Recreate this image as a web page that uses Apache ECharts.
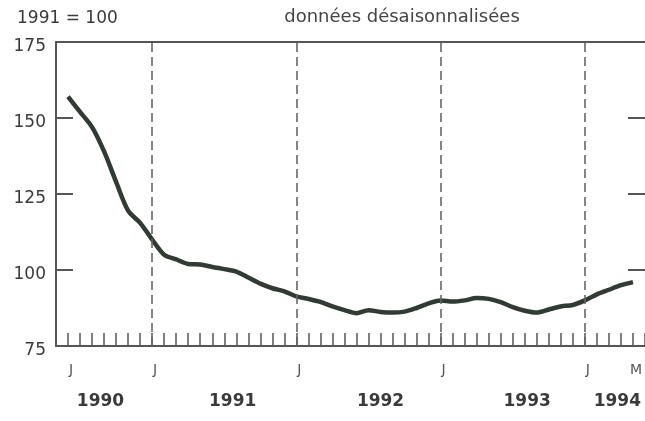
<!DOCTYPE html>
<html>
<head>
<meta charset="utf-8">
<script src="https://cdn.jsdelivr.net/npm/echarts@6/dist/echarts.min.js"></script>
<style>
  html, body { margin: 0; padding: 0; background: #fff; }
  #chart { width: 645px; height: 421px; }
</style>
</head>
<body>
<div id="chart"></div>
<script>
// index mensuel, 1991 = 100, de juin 1990 à mai 1994
const firstMonth = 5 // juin 1990 (mois comptés depuis janvier 1990)
const indexValues = [
  157, 152, 147, 139, 129, 119.5, 115.5,
  110, 105, 103.5, 102, 101.8, 101, 100.3, 99.5, 97.5, 95.5, 94, 93,
  91.3, 90.5, 89.5, 88, 86.8, 85.8, 86.8, 86.2, 86, 86.3, 87.5, 89,
  90, 89.6, 90, 90.8, 90.5, 89.4, 87.8, 86.6, 86, 87, 88, 88.5,
  90, 92, 93.5, 95, 96
]
const monthTicks = [5, 12, 24, 36, 48, 52]
const monthLabels = ['J', 'J', 'J', 'J', 'J', 'M']
const januaries = [12, 24, 36, 48]
const years = ['1990', '1991', '1992', '1993', '1994']
const yTicks = [75, 100, 125, 150, 175]

const points = indexValues.map((v, i) => [firstMonth + i, v])
const yearPos = [7.7, 18.7, 31, 43.2, 50.7]

const font = 'DejaVu Sans, Arial, sans-serif'
const txt = '#3a3a3a'
const axisCol = '#555'

const chart = echarts.init(document.getElementById('chart'))
const option = {
  animation: false,
  textStyle: { fontFamily: font },
  title: [
    {
      text: '1991 = 100',
      left: 12, top: 5,
      textStyle: { fontFamily: font, fontSize: 17, fontWeight: 'normal', color: txt }
    },
    {
      text: 'données désaisonnalisées',
      left: 397, top: 3, textAlign: 'center',
      textStyle: { fontFamily: font, fontSize: 18, fontWeight: 'normal', color: '#444' }
    }
  ],
  grid: { left: 56, right: 0, top: 42, bottom: 75 },
  xAxis: [
    {
      type: 'value', min: 4, max: 53, interval: 1,
      axisLine: { show: true, lineStyle: { color: axisCol, width: 2 } },
      axisTick: { show: true, inside: true, length: 13, lineStyle: { color: axisCol, width: 1.5 } },
      splitLine: { show: false },
      axisLabel: {
        customValues: monthTicks,
        margin: 17, fontSize: 14, color: '#555', fontFamily: font,
        padding: [0, 0, 0, 6],
        formatter: v => monthLabels[monthTicks.indexOf(v)] || ''
      }
    },
    {
      type: 'value', min: 4, max: 53, position: 'bottom',
      axisLine: { show: false }, axisTick: { show: false }, splitLine: { show: false },
      axisLabel: {
        customValues: yearPos,
        margin: 47, fontSize: 17, fontWeight: 'bold', color: txt, fontFamily: font,
        formatter: v => years[yearPos.indexOf(v)] || ''
      }
    },
    {
      type: 'value', min: 4, max: 53, position: 'top',
      axisLine: { show: true, lineStyle: { color: axisCol, width: 2 } },
      axisTick: { show: false }, axisLabel: { show: false }, splitLine: { show: false }
    }
  ],
  yAxis: [
    {
      type: 'value', min: 75, max: 175, interval: 25,
      axisLine: { show: true, lineStyle: { color: axisCol, width: 2 } },
      axisTick: { show: true, inside: true, length: 17, lineStyle: { color: axisCol, width: 2 } },
      splitLine: { show: false },
      axisLabel: {
        margin: 10, fontSize: 17, color: txt, fontFamily: font,
        verticalAlign: 'top', lineHeight: 10,
        formatter: v => yTicks.includes(v) ? String(v) : ''
      }
    },
    {
      type: 'value', min: 75, max: 175, interval: 25, position: 'right',
      axisLine: { show: false },
      axisTick: { show: true, inside: true, length: 17, lineStyle: { color: axisCol, width: 2 } },
      axisLabel: { show: false }, splitLine: { show: false }
    }
  ],
  series: [
    {
      type: 'line',
      data: points,
      showSymbol: false,
      smooth: 0.3,
      lineStyle: { color: '#2f3b33', width: 4.5 },
      markLine: {
        silent: true,
        symbol: 'none',
        label: { show: false },
        lineStyle: { color: '#666', width: 1.6, type: [9, 5] },
        data: januaries.map(m => ({ xAxis: m }))
      }
    }
  ]
}
chart.setOption(option)
</script>
</body>
</html>
